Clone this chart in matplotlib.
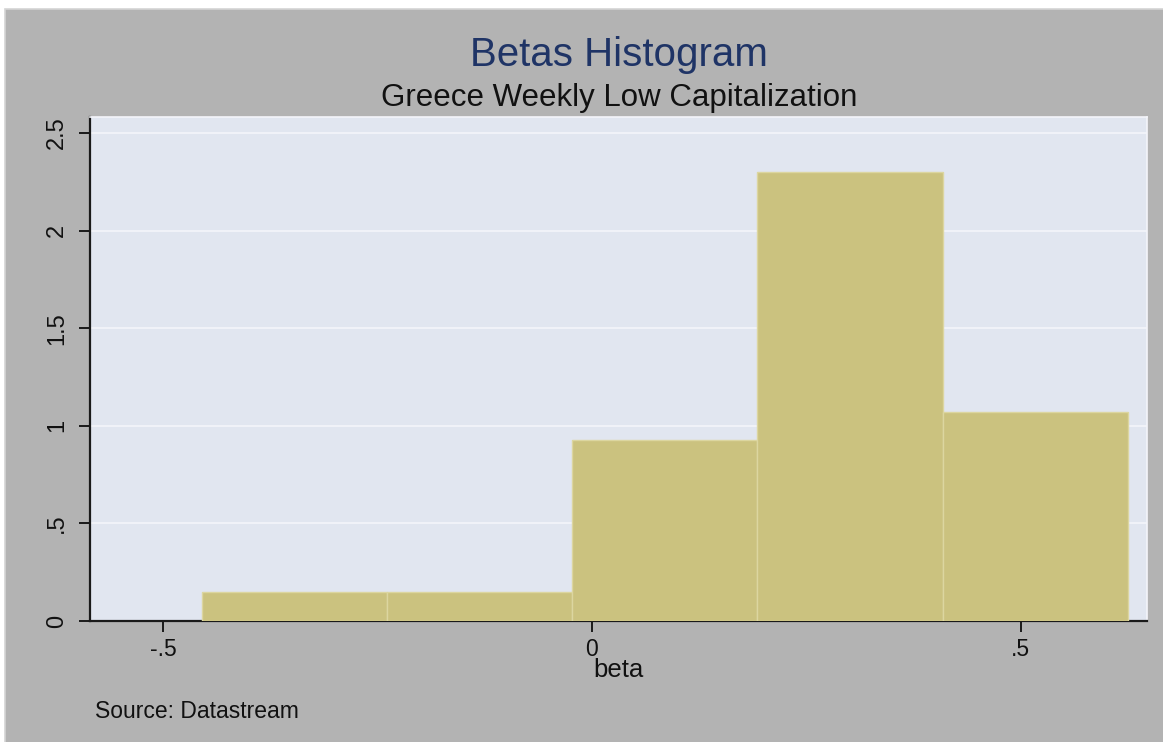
import matplotlib
matplotlib.use("Agg")
import matplotlib.pyplot as plt
from matplotlib.patches import Rectangle

# Histogram of estimated betas (density scale)
bin_edges = [-0.455, -0.239, -0.023, 0.193, 0.409, 0.625]
densities = [0.149, 0.149, 0.927, 2.302, 1.072]
x_ticks = [-0.5, 0.0, 0.5]
x_tick_labels = ["-.5", "0", ".5"]
y_ticks = [0, 0.5, 1, 1.5, 2, 2.5]
y_tick_labels = ["0", ".5", "1", "1.5", "2", "2.5"]

title = "Betas Histogram"
subtitle = "Greece Weekly Low Capitalization"
x_label = "beta"
note = "Source: Datastream"

plt.rcParams["font.family"] = ["Liberation Sans", "DejaVu Sans"]

W, H = 1163, 742
fig = plt.figure(figsize=(W / 100, H / 100), dpi=100)
fig.patch.set_facecolor("white")

# grey graph region with a faint outline on its top and left edges
fig.patches.append(Rectangle((5 / W, -0.05), 1.1, 1.05 - 9 / H, transform=fig.transFigure,
                             facecolor="#b3b3b3", edgecolor="#d4d4d4", lw=1.2, zorder=-5))

ax = fig.add_axes([90 / W, 121 / H, (1147 - 90) / W, (625 - 121) / H])
ax.set_zorder(2)
ax.set_facecolor("#e1e6f0")

lefts = bin_edges[:-1]
widths = [b - a for a, b in zip(bin_edges[:-1], bin_edges[1:])]
ax.bar(lefts, densities, width=widths, align="edge", color="#cbc27f",
       edgecolor="#dcd6a0", linewidth=1.0, zorder=3)

ax.set_xlim(-0.585, 0.647)
ax.set_ylim(0, 2.582)

ax.set_yticks(y_ticks)
ax.set_yticklabels(y_tick_labels, rotation=90, va="center")
ax.set_xticks(x_ticks)
ax.set_xticklabels(x_tick_labels)

ax.grid(axis="y", color="#f0f2f8", linewidth=1.5, zorder=1)
ax.set_axisbelow(True)

for s in ("top", "right"):
    ax.spines[s].set_color("#f4f5fa")
    ax.spines[s].set_linewidth(1.2)
for s in ("left", "bottom"):
    ax.spines[s].set_color("#1a1a1a")
    ax.spines[s].set_linewidth(1.6)

ax.tick_params(axis="both", direction="out", length=8, width=1.4, color="#1a1a1a",
               labelcolor="#111111")
ax.tick_params(axis="x", pad=4, labelsize=16.5)
ax.tick_params(axis="y", pad=8, labelsize=17)

ax.set_xlabel(x_label, fontsize=18.5, color="#111111", labelpad=-2)

fig.text(619 / W, 1 - 66 / H, title, ha="center", va="baseline",
         fontsize=29, color="#1f3466")
fig.text(619 / W, 1 - 106 / H, subtitle, ha="center", va="baseline",
         fontsize=22.5, color="#111111")
fig.text(95 / W, 1 - 718 / H, note, ha="left", va="baseline",
         fontsize=16.5, color="#111111")

fig.savefig("out.png", dpi=100)
